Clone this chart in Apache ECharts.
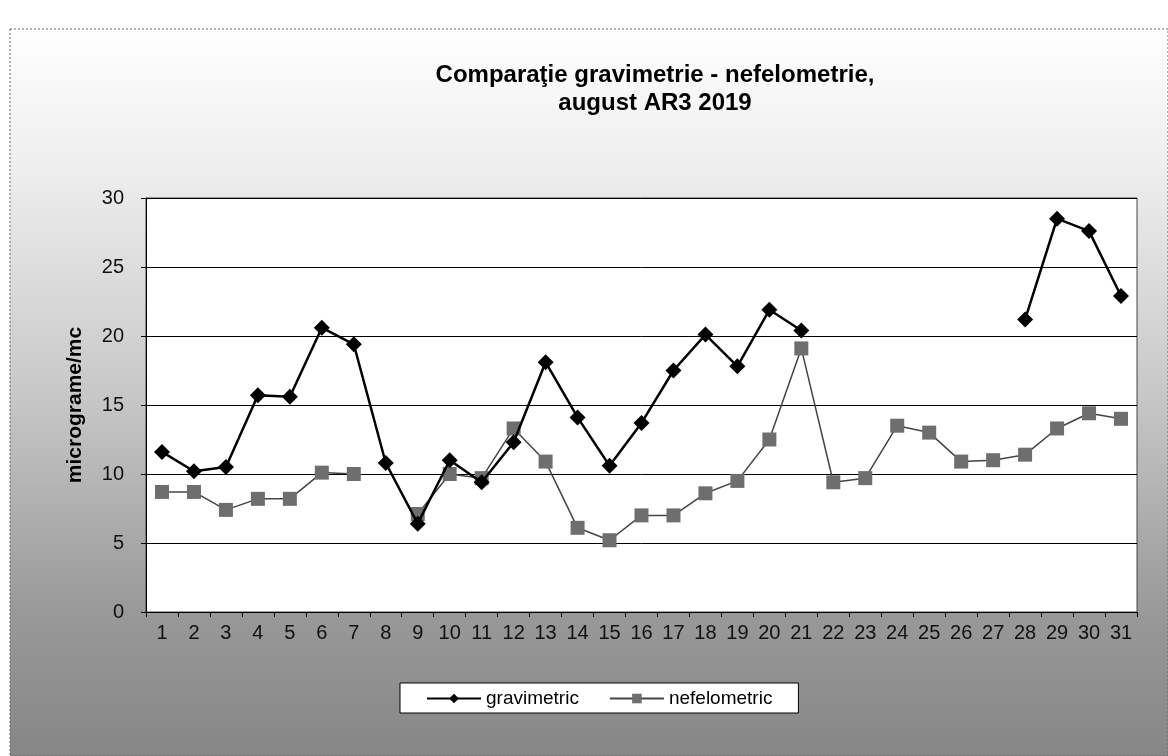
<!DOCTYPE html>
<html>
<head>
<meta charset="utf-8">
<script src="https://cdn.jsdelivr.net/npm/echarts@6/dist/echarts.min.js"></script>
<style>
  html, body { margin: 0; padding: 0; background: #fff; }
  #chart { width: 1168px; height: 756px; }
</style>
</head>
<body>
<div id="chart"></div>
<script>
// zile (august 2019)
var days = [];
for (var d = 1; d <= 31; d++) days.push(String(d));

// valori, micrograme/mc
var gravimetric = [11.6, 10.2, 10.5, 15.7, 15.6, 20.6, 19.4, 10.8, 6.4, 11.0,
  9.4, 12.3, 18.1, 14.1, 10.6, 13.7, 17.5, 20.1, 17.8, 21.9,
  20.4, null, null, null, null, null, null, 21.2, 28.5, 27.6, 22.9];
var nefelometric = [8.7, 8.7, 7.4, 8.2, 8.2, 10.1, 10.0, null, 7.1, 10.0,
  9.7, 13.3, 10.9, 6.1, 5.2, 7.0, 7.0, 8.6, 9.5, 12.5,
  19.1, 9.4, 9.7, 13.5, 13.0, 10.9, 11.0, 11.4, 13.3, 14.4, 14.0];

var yTicks = [0, 5, 10, 15, 20, 25, 30];

var chart = echarts.init(document.getElementById('chart'));

var option = {
  animation: false,
  textStyle: { fontFamily: 'Liberation Sans, Arial, sans-serif' },
  graphic: [
    {
      // fundalul zonei graficului, gri in degrade
      type: 'rect',
      z: -10,
      shape: { x: 10, y: 29, width: 1158, height: 727 },
      style: {
        fill: new echarts.graphic.LinearGradient(0, 0, 0, 1, [
          { offset: 0, color: '#ffffff' },
          { offset: 0.2, color: '#ededed' },
          { offset: 0.5, color: '#c8c8c8' },
          { offset: 0.8, color: '#999999' },
          { offset: 1, color: '#868686' }
        ]),
        stroke: '#666',
        lineWidth: 1,
        lineDash: [2, 2]
      }
    }
  ],
  title: {
    text: 'Comparaţie gravimetrie - nefelometrie,\naugust AR3 2019',
    left: 650,
    top: 56,
    textAlign: 'center',
    textStyle: {
      fontSize: 24,
      fontWeight: 'bold',
      color: '#000',
      lineHeight: 28
    }
  },
  legend: {
    left: 400,
    top: 683,
    width: 398,
    padding: [6, 26, 5, 26],
    itemGap: 30,
    itemWidth: 54,
    itemHeight: 12,
    backgroundColor: '#fff',
    borderColor: '#000',
    borderWidth: 1,
    borderRadius: 0,
    textStyle: { fontSize: 19, color: '#000' },
    data: ['gravimetric', 'nefelometric']
  },
  grid: {
    left: 146,
    right: 31,
    top: 198,
    bottom: 144,
    show: true,
    backgroundColor: '#fff',
    borderColor: '#444',
    borderWidth: 1
  },
  xAxis: {
    type: 'category',
    data: days,
    boundaryGap: true,
    axisLine: { lineStyle: { color: '#000', width: 1 } },
    axisTick: { show: true, length: 5, lineStyle: { color: '#000' } },
    axisLabel: { fontSize: 20, color: '#111', margin: 11, interval: 0 }
  },
  yAxis: {
    type: 'value',
    min: 0,
    max: 30,
    interval: 5,
    name: 'micrograme/mc',
    nameLocation: 'middle',
    nameGap: 60,
    nameTextStyle: { fontSize: 21, fontWeight: 'bold', color: '#000' },
    axisLine: { show: true, lineStyle: { color: '#000' } },
    axisTick: { show: true, length: 5, lineStyle: { color: '#000' } },
    axisLabel: {
      fontSize: 20, color: '#111', margin: 22,
      formatter: function (v) { return yTicks.indexOf(v) >= 0 ? String(v) : ''; }
    },
    splitLine: { show: true, lineStyle: { color: '#000', width: 1 } }
  },
  series: [
    {
      name: 'gravimetric',
      type: 'line',
      data: gravimetric,
      connectNulls: false,
      symbol: 'diamond',
      symbolSize: 16,
      itemStyle: { color: '#000' },
      lineStyle: { color: '#000', width: 2.5 },
      z: 3
    },
    {
      name: 'nefelometric',
      type: 'line',
      data: nefelometric,
      connectNulls: false,
      symbol: 'rect',
      symbolSize: 14,
      itemStyle: { color: '#6e6e6e' },
      lineStyle: { color: '#444', width: 1.5 },
      z: 2
    }
  ]
};

chart.setOption(option);
</script>
</body>
</html>
